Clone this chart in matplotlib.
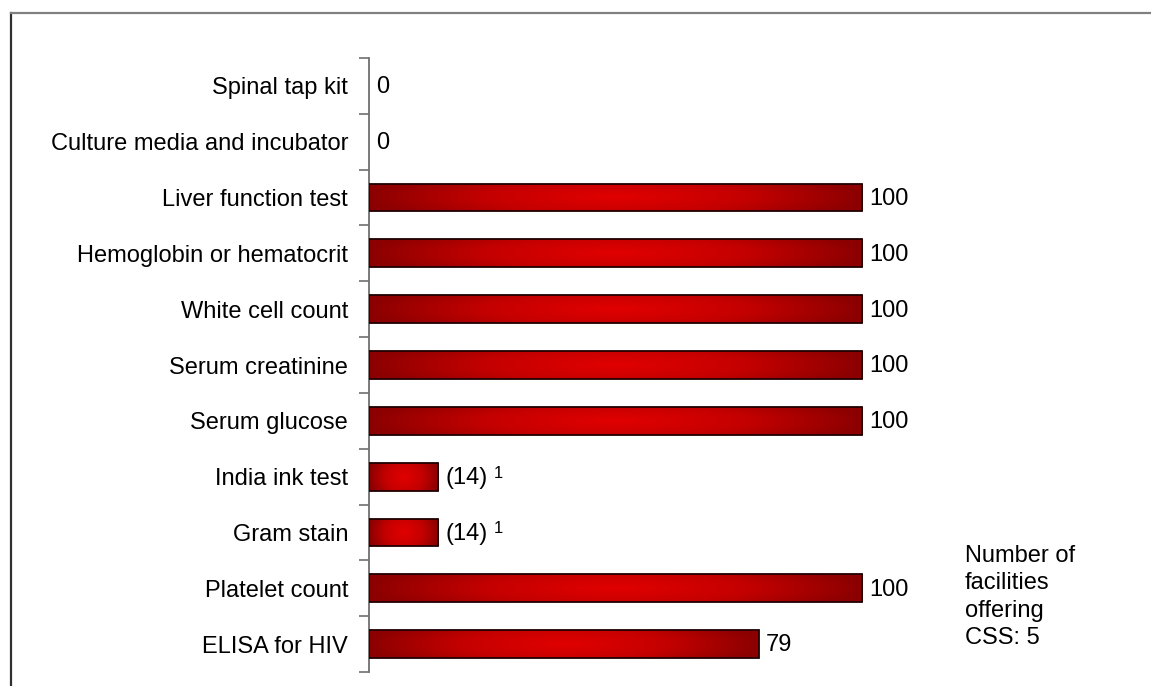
import numpy as np
import matplotlib.pyplot as plt
from matplotlib.colors import LinearSegmentedColormap
from matplotlib.lines import Line2D

plt.rcParams["font.family"] = ["Liberation Sans", "DejaVu Sans"]

# data (top to bottom)
tests = ["Spinal tap kit", "Culture media and incubator", "Liver function test",
         "Hemoglobin or hematocrit", "White cell count", "Serum creatinine",
         "Serum glucose", "India ink test", "Gram stain", "Platelet count",
         "ELISA for HIV"]
values = [0, 0, 100, 100, 100, 100, 100, 14, 14, 100, 79]
value_labels = ["0", "0", "100", "100", "100", "100", "100", "(14)", "(14)", "100", "79"]
notes = ["", "", "", "", "", "", "", "1", "1", "", ""]
side_note = "Number of\nfacilities\noffering\nCSS: 5"

fig = plt.figure(figsize=(11.51, 6.86), dpi=100)
ax = fig.add_axes([369 / 1151, 14 / 686, 592 / 1151, 614 / 686])

y = np.arange(len(tests))
bar_h = 0.5
cmap = LinearSegmentedColormap.from_list("redgrad", ["#e00000", "#c40000", "#8c0000"])

# gradient "from center" fill for each bar
gx = np.linspace(-1, 1, 200)
gy = np.linspace(-1, 1, 40)
GX, GY = np.meshgrid(gx, gy)
grad = np.clip(np.sqrt(GX ** 2 + (0.45 * GY) ** 2), 0, 1) ** 1.1

bars = ax.barh(y, values, height=bar_h, facecolor="none", edgecolor="#200000",
               linewidth=1.3, zorder=3)
for b, v in zip(bars, values):
    if v <= 0:
        b.set_visible(False)
        continue
    x0, y0 = b.get_x(), b.get_y()
    im = ax.imshow(grad, cmap=cmap, aspect="auto", vmin=0, vmax=1,
                   extent=(x0, x0 + b.get_width(), y0 + b.get_height(), y0),
                   zorder=2, interpolation="bilinear")
    im.set_clip_path(b)

# value labels
for yi, v, lab, note in zip(y, values, value_labels, notes):
    t = ax.annotate(lab, xy=(v, yi), xytext=(5, -1),
                    textcoords="offset points", va="center", ha="left",
                    fontsize=17, color="black")
    if note:
        ax.annotate(note, xy=(1, 1), xycoords=t, xytext=(5, 1),
                    textcoords="offset points", va="top", ha="left",
                    fontsize=12, color="black")

ax.set_xlim(0, 120)
ax.set_ylim(len(tests) - 0.5, -0.5)
ax.set_yticks(y)
ax.set_yticklabels(tests, fontsize=17)
ax.set_yticks(np.arange(-0.5, len(tests)), minor=True)
ax.tick_params(axis="y", which="major", length=0, pad=15)
ax.tick_params(axis="y", which="minor", length=7, width=1.2, color="#707070")
ax.set_xticks([])
for s in ["top", "right", "bottom"]:
    ax.spines[s].set_visible(False)
ax.spines["left"].set_color("#707070")
ax.spines["left"].set_linewidth(1.3)

fig.text(965 / 1151, 1 - 545 / 686, side_note, fontsize=17, va="top",
         ha="left", linespacing=1.32)

# outer frame (cut off at right and bottom)
fig.add_artist(Line2D([10.5 / 1151, 10.5 / 1151], [0, 1 - 13 / 686],
                      transform=fig.transFigure, color="#303030", lw=1.6))
fig.add_artist(Line2D([10.5 / 1151, 1], [1 - 13 / 686, 1 - 13 / 686],
                      transform=fig.transFigure, color="#808080", lw=1.6))

fig.savefig("out.png", dpi=100)
